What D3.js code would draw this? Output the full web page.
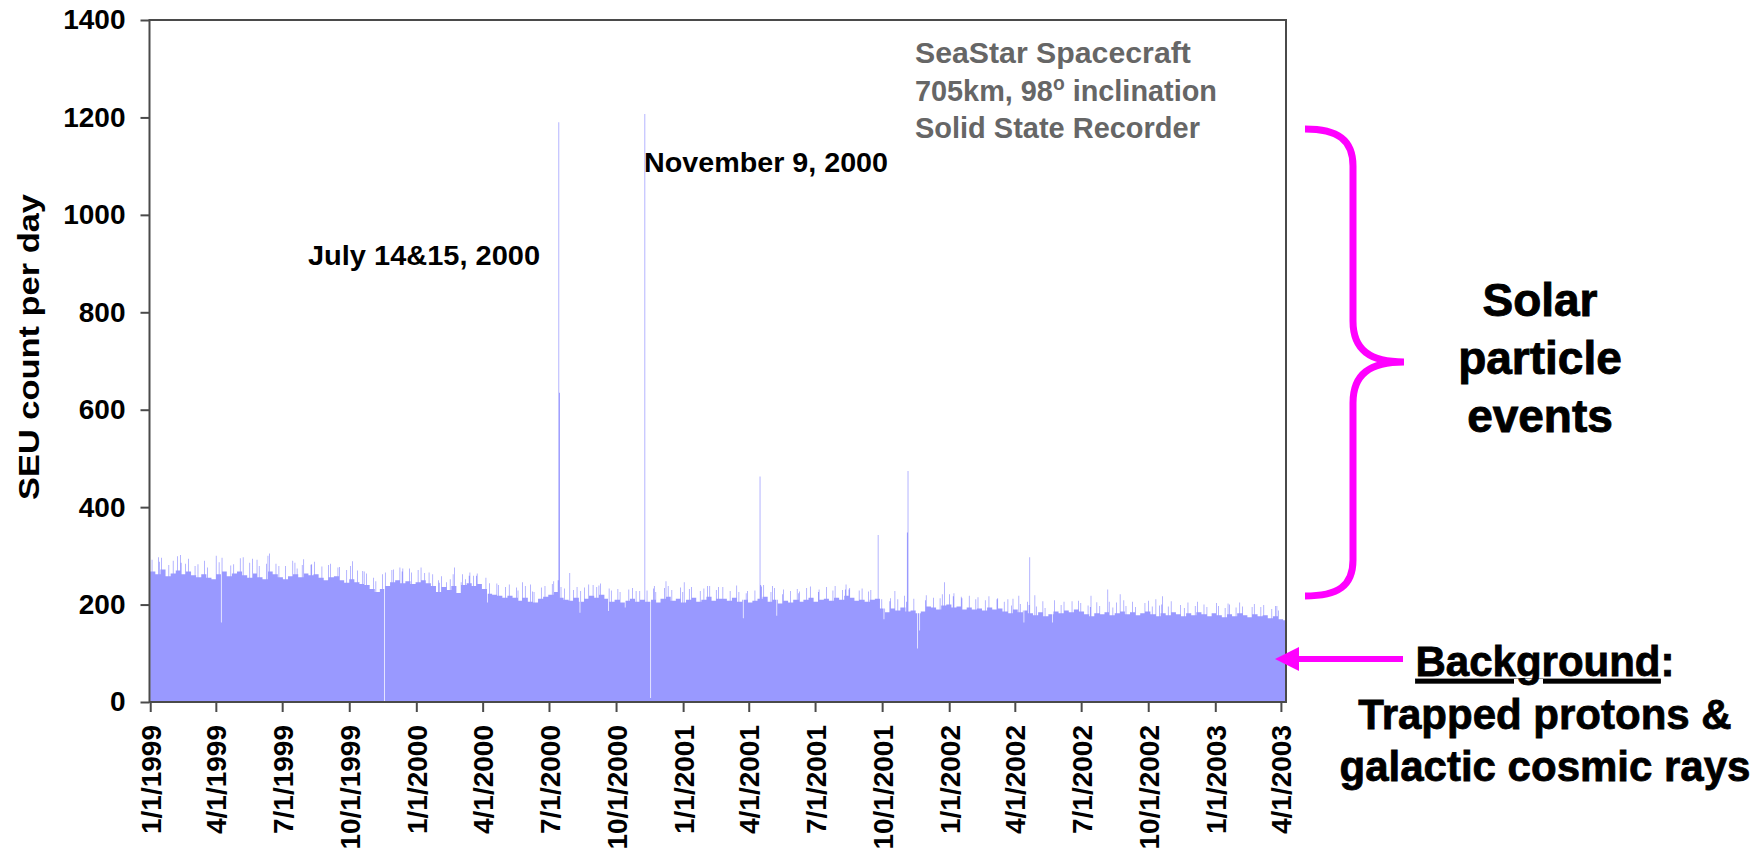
<!DOCTYPE html>
<html>
<head>
<meta charset="utf-8">
<script src="https://cdn.jsdelivr.net/npm/d3@7"></script>
<style>
  html, body { margin: 0; padding: 0; background: #ffffff; }
  svg { display: block; font-family: "Liberation Sans", Arial, Helvetica, sans-serif; }
</style>
</head>
<body>
<svg id="chart" width="1763" height="854"></svg>
<script>
// Daily SEU counts on the SeaStar solid state recorder, 1/1/1999 - 4/7/2003.
// Background level per week (week 0 starts 1/1/1999).
const weeklyCounts = [
  268,262,272,258,264,270,262,268,260,256,
  262,255,252,262,268,258,264,268,260,255,
  264,256,252,268,262,256,252,258,262,256,
  264,260,262,255,250,256,258,250,245,252,
  246,242,240,232,226,232,238,246,250,244,
  248,242,246,250,244,238,
  226,236,230,238,224,240,244,238,242,232,
  222,220,218,214,218,214,208,214,206,204,
  212,216,220,226,214,210,208,214,206,212,
  218,214,220,212,206,210,204,208,212,206,
  210,206,210,204,212,216,208,212,204,210,
  214,206,210,216,208,212,
  212,208,214,206,210,204,208,212,216,206,
  210,202,208,204,210,206,210,214,206,210,
  212,208,214,210,218,214,208,210,206,210,
  212,192,184,192,188,194,186,188,182,186,
  196,194,190,198,200,194,196,190,194,190,
  192,188,194,190,192,
  186,182,190,184,188,182,178,184,176,180,
  186,182,188,184,190,186,180,176,182,180,
  184,178,182,186,180,184,178,182,186,180,
  176,182,178,184,180,176,182,178,184,180,
  176,182,178,174,180,176,182,178,174,180,
  176,178,172,176,170,168
];

// Highest single day in each week, and the day of the week (0-6) it fell on.
const weeklyPeaks = [
  292,288,296,281,290,302,285,294,279,283,
  290,276,281,287,296,280,291,295,283,286,
  292,279,284,300,284,281,279,290,286,281,
  293,282,288,278,281,284,280,277,271,279,
  270,268,264,255,248,262,266,272,276,268,
  274,266,271,276,266,262,
  250,258,252,262,246,262,266,259,264,255,
  244,243,240,236,241,235,229,238,227,226,
  235,238,242,248,236,233,230,236,228,235,
  240,236,243,233,229,232,226,231,234,228,
  232,229,233,226,234,238,230,235,226,232,
  236,228,233,238,230,236,
  236,228,239,226,231,228,229,237,240,226,
  234,221,231,228,232,227,234,237,226,231,
  236,229,238,230,241,234,229,233,227,230,
  235,211,207,213,211,218,206,212,203,209,
  219,214,213,221,221,217,216,213,218,211,
  215,209,217,211,213,
  206,198,212,201,206,199,196,207,193,198,
  209,199,206,207,208,203,198,195,205,197,
  206,194,204,209,197,206,195,203,208,196,
  198,200,196,207,199,193,204,197,206,198,
  195,203,197,193,202,194,204,196,195,201,
  195,199,191,197,188,186
];
const peakWeekday = [
  2,5,1,4,3,6,0,3,5,2,
  4,1,6,3,0,5,2,4,1,3,
  6,2,5,0,4,1,3,6,2,5,
  0,3,1,4,6,2,5,0,3,1,
  4,6,2,5,1,3,0,4,6,2,
  5,1,3,0,4,2,
  3,0,5,2,6,1,4,2,0,5,
  3,6,1,4,2,5,0,3,6,1,
  4,2,5,0,3,1,6,4,2,0,
  5,3,1,6,2,4,0,5,3,1,
  6,2,4,0,5,3,1,6,2,4,
  0,5,3,1,6,2,
  1,4,6,2,5,0,3,5,1,4,
  2,6,0,3,5,1,4,2,6,0,
  3,5,1,4,2,0,6,3,5,1,
  4,2,6,0,3,5,1,4,2,6,
  0,3,5,1,4,2,6,0,3,5,
  1,4,2,6,0,
  2,5,0,3,6,1,4,6,2,5,
  1,3,0,4,6,2,5,1,3,0,
  6,4,2,5,1,3,0,6,4,2,
  5,1,3,0,6,4,2,5,1,3,
  0,6,2,4,1,5,3,0,6,2,
  4,1,5,3,0,6
];

// Individual days that stand out (solar particle events, single-day highs and lows, data gaps).
const dayDates = [
  "1999-01-12","1999-02-07","1999-02-12","1999-02-18","1999-04-01","1999-04-08",
  "1999-04-25","1999-05-08","1999-05-21","1999-06-13","1999-06-26","1999-07-21",
  "1999-08-10","1999-09-15","1999-10-05","1999-10-19","1999-11-18","1999-11-28",
  "1999-12-13","2000-01-12","2000-02-01","2000-02-11","2000-02-22","2000-03-08",
  "2000-03-13","2000-03-23","2000-04-07","2000-05-25","2000-06-05","2000-07-13",
  "2000-07-14","2000-07-15","2000-07-29","2000-08-12","2000-08-24","2000-09-07",
  "2000-09-20","2000-10-13","2000-11-02","2000-11-09","2000-11-17","2000-11-22",
  "2000-12-08","2001-01-02","2001-02-06","2001-02-18","2001-03-24","2001-03-28",
  "2001-04-16","2001-04-17","2001-05-03","2001-05-09","2001-06-08","2001-08-11",
  "2001-08-16","2001-09-25","2001-10-03","2001-10-18","2001-11-04","2001-11-05",
  "2001-11-18","2001-11-21","2001-12-25","2002-01-07","2002-03-22","2002-04-06",
  "2002-04-13","2002-04-21","2002-04-28","2002-05-22","2002-07-14","2002-08-06",
  "2002-08-23","2002-10-11","2002-10-20","2002-12-16","2003-01-20","2003-03-26"
];
const dayCounts = [
  297,299,286,284,300,163,
  283,297,294,305,279,274,
  283,276,289,269,0,271,
  274,265,245,246,276,252,
  259,259,204,246,241,250,
  1190,635,265,183,241,239,
  187,194,228,1207,8,238,
  248,246,238,236,172,223,
  463,240,238,177,223,231,
  231,343,170,228,348,474,
  110,147,246,223,211,218,
  163,297,219,163,218,231,
  221,211,217,200,200,197
];

const yTicks = [0, 200, 400, 600, 800, 1000, 1200, 1400];
const xTickLabels = [
  "1/1/1999","4/1/1999","7/1/1999","10/1/1999",
  "1/1/2000","4/1/2000","7/1/2000","10/1/2000",
  "1/1/2001","4/1/2001","7/1/2001","10/1/2001",
  "1/1/2002","4/1/2002","7/1/2002","10/1/2002",
  "1/1/2003","4/1/2003"
];

const svg = d3.select("#chart");
const margin = { left: 149.5, right: 1286, top: 20, bottom: 702 };
const axisColor = "#4a4a4a";
const fillColor = "#9999ff";

const parseIso = d3.utcParse("%Y-%m-%d");
const parseTick = d3.utcParse("%m/%d/%Y");
const start = Date.UTC(1999, 0, 1);
const dayMs = 86400000;

const x = d3.scaleUtc()
  .domain([new Date(Date.UTC(1998, 11, 31)), new Date(Date.UTC(2003, 3, 8))])
  .range([margin.left, margin.right]);
const y = d3.scaleLinear().domain([0, 1400]).range([margin.bottom, margin.top]);

// Daily series: weekly background, each week's peak day, then the listed days.
const overrides = new Map(dayDates.map((d, i) => [Math.round((parseIso(d) - start) / dayMs), dayCounts[i]]));
const nDays = Math.round((x.domain()[1] - start) / dayMs);
const daily = [];
for (let d = 0; d < nDays; d++) {
  const w = Math.min(Math.floor(d / 7), weeklyCounts.length - 1);
  let v = weeklyCounts[w];
  if (d - 7 * w === peakWeekday[w]) v = weeklyPeaks[w];
  if (overrides.has(d)) v = overrides.get(d);
  daily.push({ date: new Date(start + d * dayMs), v });
}
daily.push({ date: x.domain()[1], v: daily[daily.length - 1].v });

const area = d3.area()
  .curve(d3.curveStepAfter)
  .x(d => x(d.date))
  .y0(y(0))
  .y1(d => y(d.v));

svg.append("path")
  .datum(daily)
  .attr("d", area)
  .attr("fill", fillColor);

// Plot frame
svg.append("rect")
  .attr("x", margin.left).attr("y", margin.top)
  .attr("width", margin.right - margin.left)
  .attr("height", margin.bottom - margin.top)
  .attr("fill", "none")
  .attr("stroke", axisColor)
  .attr("stroke-width", 2);

// Y axis
const yAxis = svg.append("g")
  .attr("transform", `translate(${margin.left},0)`)
  .call(d3.axisLeft(y).tickValues(yTicks).tickSize(9).tickPadding(15).tickFormat(d3.format("d")));
yAxis.select(".domain").remove();
yAxis.selectAll(".tick line").attr("stroke", axisColor).attr("stroke-width", 2);
yAxis.selectAll(".tick text")
  .attr("fill", "#000").attr("font-size", 28).attr("font-weight", "bold")
  .attr("font-family", "Liberation Sans, Arial, sans-serif");

// X axis
const xTicks = xTickLabels.map(s => parseTick(s));
const xAxis = svg.append("g")
  .attr("transform", `translate(0,${margin.bottom})`)
  .call(d3.axisBottom(x).tickValues(xTicks).tickSize(10).tickFormat((d, i) => xTickLabels[i]));
xAxis.select(".domain").remove();
xAxis.selectAll(".tick line").attr("stroke", axisColor).attr("stroke-width", 2);
xAxis.selectAll(".tick text")
  .attr("fill", "#000").attr("font-size", 28).attr("font-weight", "bold")
  .attr("font-family", "Liberation Sans, Arial, sans-serif")
  .attr("transform", "rotate(-90)")
  .attr("x", -23).attr("y", 0).attr("dy", "0.36em")
  .attr("text-anchor", "end");

// Y axis title
svg.append("text")
  .attr("transform", "translate(39,347) rotate(-90)")
  .attr("text-anchor", "middle")
  .attr("font-size", 30).attr("font-weight", "bold").attr("fill", "#000")
  .attr("textLength", 306).attr("lengthAdjust", "spacingAndGlyphs")
  .text("SEU count per day");

// Event annotations
svg.append("text")
  .attr("x", 308).attr("y", 265)
  .attr("font-size", 28).attr("font-weight", "bold").attr("fill", "#000")
  .attr("textLength", 232).attr("lengthAdjust", "spacingAndGlyphs")
  .text("July 14&15, 2000");
svg.append("text")
  .attr("x", 644).attr("y", 172)
  .attr("font-size", 28).attr("font-weight", "bold").attr("fill", "#000")
  .attr("textLength", 244).attr("lengthAdjust", "spacingAndGlyphs")
  .text("November 9, 2000");

// Spacecraft description, each line squeezed to its set width
function fitLine(sel, x0, width) {
  const w = sel.node().getComputedTextLength();
  sel.attr("transform", `translate(${x0},0) scale(${width / w},1) translate(${-x0},0)`);
}
const infoStyle = s => s.attr("font-size", 30).attr("font-weight", "bold").attr("fill", "#666666");
const info1 = svg.append("text").call(infoStyle).attr("x", 915).attr("y", 63).text("SeaStar Spacecraft");
const info2 = svg.append("text").call(infoStyle).attr("x", 915).attr("y", 101);
info2.append("tspan").text("705km, 98");
info2.append("tspan").attr("dy", -11).attr("font-size", 20).text("o");
info2.append("tspan").attr("dy", 11).text(" inclination");
const info3 = svg.append("text").call(infoStyle).attr("x", 915).attr("y", 138).text("Solid State Recorder");
fitLine(info1, 915, 276);
fitLine(info2, 915, 302);
fitLine(info3, 915, 285);

// Brace marking the solar particle event range
const magenta = "#ff00ff";
svg.append("path")
  .attr("d", "M1305,129 C1338,129 1353,140 1353,166 L1353,321 C1353,350 1370,362 1404,362 " +
             "C1370,362 1353,374 1353,403 L1353,560 C1353,586 1338,596 1305,596")
  .attr("fill", "none").attr("stroke", magenta).attr("stroke-width", 7);

const sol = svg.append("text")
  .attr("text-anchor", "middle").attr("font-size", 46).attr("font-weight", "bold")
  .attr("fill", "#000").attr("stroke", "#000").attr("stroke-width", 0.9);
sol.append("tspan").attr("x", 1540).attr("y", 316).text("Solar");
sol.append("tspan").attr("x", 1540).attr("y", 374).text("particle");
sol.append("tspan").attr("x", 1540).attr("y", 432).text("events");

// Arrow pointing at the background level
svg.append("line")
  .attr("x1", 1403).attr("y1", 659).attr("x2", 1296).attr("y2", 659)
  .attr("stroke", magenta).attr("stroke-width", 6);
svg.append("path")
  .attr("d", "M1275,659 L1299,647 L1299,671 Z")
  .attr("fill", magenta);

const bg = svg.append("text")
  .attr("text-anchor", "middle").attr("font-size", 42).attr("font-weight", "bold")
  .attr("fill", "#000").attr("stroke", "#000").attr("stroke-width", 0.8);
const bgFirst = bg.append("tspan").attr("x", 1545).attr("y", 676);
bgFirst.append("tspan").attr("text-decoration", "underline").text("Background");
bgFirst.append("tspan").text(":");
bg.append("tspan").attr("x", 1545).attr("y", 729).text("Trapped protons &");
bg.append("tspan").attr("x", 1545).attr("y", 781).text("galactic cosmic rays");
</script>
</body>
</html>
